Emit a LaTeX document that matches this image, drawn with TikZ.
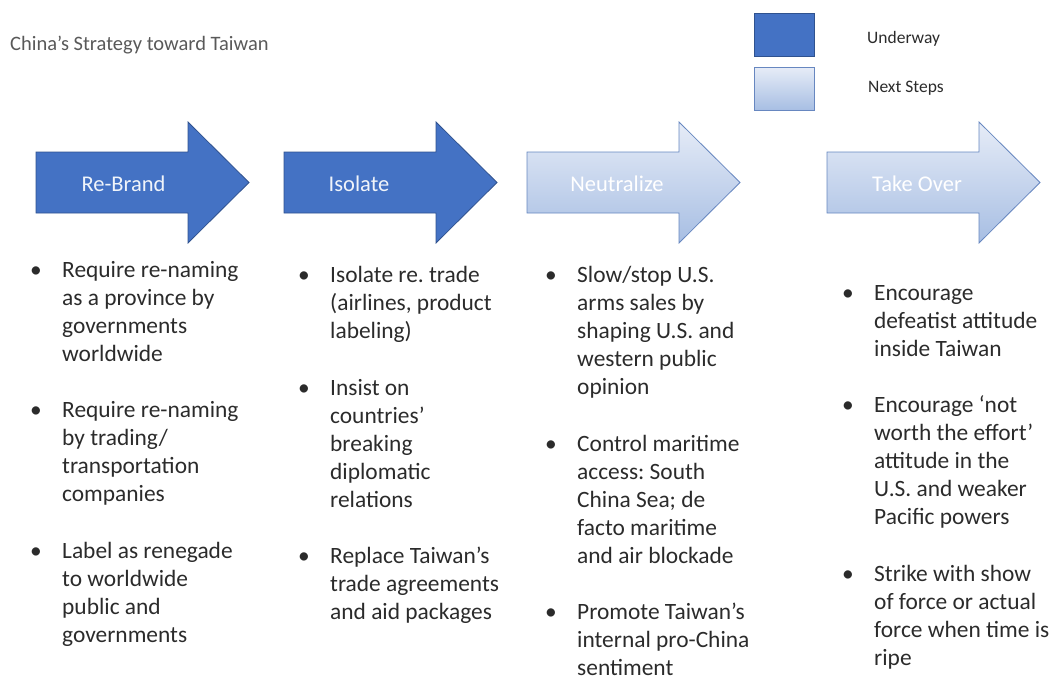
\documentclass[tikz,border=0pt]{standalone}
\usepackage{fontspec}
\setmainfont{Carlito}
\usepackage{tikz}
\usetikzlibrary{positioning}

\definecolor{stageblue}{HTML}{4472C4}
\definecolor{stageedge}{HTML}{2F528F}
\definecolor{paleedge}{HTML}{6787C0}
\definecolor{paletop}{HTML}{E6ECF7}
\definecolor{palebottom}{HTML}{A7BEE3}
\definecolor{bodytext}{HTML}{2B2B2B}
\definecolor{titlegray}{HTML}{595959}

\newcommand{\pointfont}{\fontsize{23.4}{28}\selectfont\frenchspacing}
% fixed line height, so that every point is a whole number of 28pt lines
\newcommand{\linestrut}{\vrule height 19.6pt depth 8.4pt width 0pt}
% the font's own word space (align=left would widen it)
\newcommand{\plainspaces}{\spaceskip=\fontdimen2\font\xspaceskip=\fontdimen2\font\relax}

\begin{document}
\begin{tikzpicture}[x=1pt,y=-1pt,
  underway/.style={fill=stageblue,draw=stageedge,line width=0.8pt},
  nextstep/.style={top color=paletop,bottom color=palebottom,draw=paleedge,line width=0.8pt},
  stagearrow/.pic={\path[pic actions] (0,0) -- (152,0) -- (152,-30) -- (213,30.5) -- (152,91) -- (152,61) -- (0,61) -- cycle;},
  stage label/.style={anchor=base,inner sep=0pt,font=\fontsize{22.5}{27}\selectfont},
  point/.style={align=left,text width=190pt,anchor=north west,inner sep=0pt,text=bodytext,font=\pointfont,
    execute at begin node={\plainspaces\linestrut},execute at end node=\linestrut,
    label={[anchor=north east,inner sep=0pt,xshift=-20pt,text=bodytext,font=\pointfont]north west:\linestrut\textbullet}},
  key/.style={anchor=base west,inner sep=0pt,text=bodytext,font=\fontsize{17.5}{21}\selectfont}]

  \useasboundingbox (0,0) rectangle (1054,680);

  \node[anchor=base west,inner sep=0pt,text=titlegray,font=\fontsize{20.5}{24}\selectfont] (title) at (10,50) {China’s Strategy toward Taiwan};

  % legend
  \node[underway,anchor=north west,minimum width=60pt,minimum height=43pt] (keynow) at (754,13) {};
  \node[nextstep,anchor=north west,minimum width=60pt,minimum height=43pt] (keynext) at (754,67) {};
  \node[key] (keynowtext) at (867,43) {Underway};
  \node[key] (keynexttext) at (868,92) {Next Steps};

  % the four stages
  \pic[underway] at (36,152) {stagearrow};
  \pic[underway] at (284,152) {stagearrow};
  \pic[nextstep] at (527,152) {stagearrow};
  \pic[nextstep] at (827,152) {stagearrow};

  \node[stage label,text=white!92!stageblue] (rebrand) at (123.5,191) {Re-Brand};
  \node[stage label,text=white!92!stageblue] (isolate) at (359,191) {Isolate};
  \node[stage label,text=white] (neutralize) at (617,191) {Neutralize};
  \node[stage label,text=white] (takeover) at (917,191) {Take Over};

  % Re-Brand
  \node[point] (rb1) at (62,257.4) {Require re-naming\\as a province by\\governments\\worldwide};
  \node[point] (rb2) [below=28pt of rb1.south west,anchor=north west] {Require re-naming\\by trading/\\transportation\\companies};
  \node[point] (rb3) [below=28pt of rb2.south west,anchor=north west] {Label as renegade\\to worldwide\\public and\\governments};

  % Isolate
  \node[point] (is1) at (330,263) {Isolate re. trade\\(airlines, product\\labeling)};
  \node[point] (is2) [below=28pt of is1.south west,anchor=north west] {Insist on\\countries’\\breaking\\diplomatic\\relations};
  \node[point] (is3) [below=28pt of is2.south west,anchor=north west] {Replace Taiwan’s\\trade agreements\\and aid packages};

  % Neutralize
  \node[point] (ne1) at (577,263) {Slow/stop U.S.\\arms sales by\\shaping U.S. and\\western public\\opinion};
  \node[point] (ne2) [below=28pt of ne1.south west,anchor=north west] {Control maritime\\access: South\\China Sea; de\\facto maritime\\and air blockade};
  \node[point] (ne3) [below=28pt of ne2.south west,anchor=north west] {Promote Taiwan’s\\internal pro-China\\sentiment};

  % Take Over
  \node[point] (to1) at (874,280.4) {Encourage\\defeatist attitude\\inside Taiwan};
  \node[point] (to2) [below=28pt of to1.south west,anchor=north west] {Encourage ‘not\\worth the effort’\\attitude in the\\U.S. and weaker\\Pacific powers};
  \node[point] (to3) [below=28pt of to2.south west,anchor=north west] {Strike with show\\of force or actual\\force when time is\\ripe};
\end{tikzpicture}
\end{document}
